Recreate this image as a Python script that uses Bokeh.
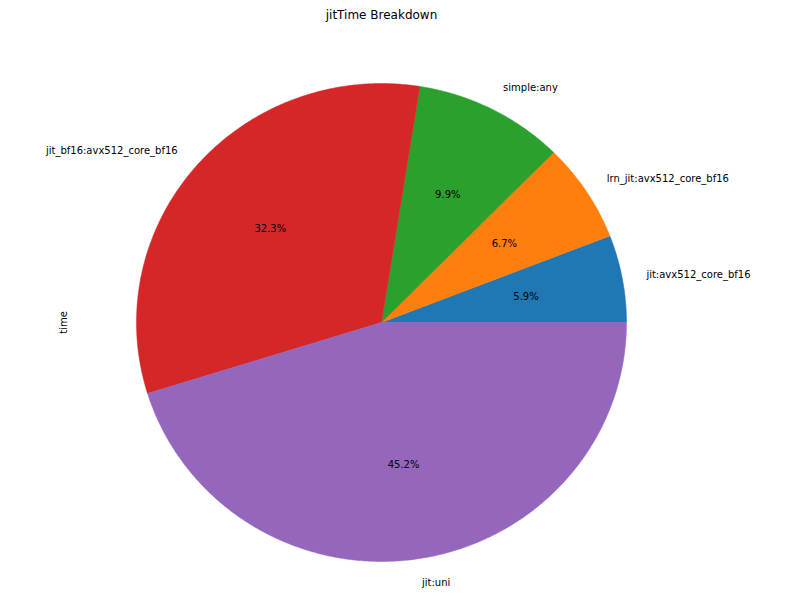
import numpy as np
from bokeh.plotting import figure
from bokeh.models import Range1d, Label, ColumnDataSource
from bokeh.core.properties import value
from bokeh.embed import file_html
from bokeh.resources import INLINE

categories = ["jit:avx512_core_bf16", "lrn_jit:avx512_core_bf16", "simple:any",
              "jit_bf16:avx512_core_bf16", "jit:uni"]
times = [5.9, 6.7, 9.9, 32.3, 45.2]
colors = ["#1f77b4", "#ff7f0e", "#2ca02c", "#d62728", "#9467bd"]
title_text = "jitTime Breakdown"
ylabel_text = "time"

W, H = 781, 593
cx, cy = 381.0, 322.0   # pie centre in canvas pixels (from top-left)
RX, RY = 245.0, 239.0   # pixels per data unit (pie is slightly elliptical)

vals = np.array(times, dtype=float)
frac = vals / vals.sum()
ends = np.cumsum(frac) * 2 * np.pi
starts = ends - frac * 2 * np.pi
mids = (starts + ends) / 2

p = figure(width=W, height=H, output_backend="svg", toolbar_location=None,
           min_border=0, min_border_left=0, min_border_right=0,
           min_border_top=0, min_border_bottom=0,
           x_range=Range1d(-cx / RX, (W - cx) / RX),
           y_range=Range1d(-(H - cy) / RY, cy / RY))
p.axis.visible = False
p.grid.visible = False
p.outline_line_color = None
p.background_fill_color = "white"
p.border_fill_color = "white"

xs, ys = [], []
for s, e in zip(starts, ends):
    n = max(int((e - s) / (2 * np.pi) * 720), 8)
    t = np.linspace(s, e, n)
    xs.append(np.concatenate([[0.0], np.cos(t), [0.0]]))
    ys.append(np.concatenate([[0.0], np.sin(t), [0.0]]))
src = ColumnDataSource(dict(xs=xs, ys=ys, color=colors))
p.patches(xs="xs", ys="ys", fill_color="color", line_color="color",
          line_width=0.5, source=src)

lx = 1.1 * np.cos(mids)
ly = 1.1 * np.sin(mids)
align = ["left" if x > 0 else "right" for x in lx]
lab_src = ColumnDataSource(dict(x=lx, y=ly, t=categories, a=align))
p.text(x="x", y="y", text="t", text_align="a", text_baseline="middle",
       text_font=value("DejaVu Sans"), text_font_size="10px",
       text_color="#000000", source=lab_src)

pct = ["%.1f%%" % (f * 100) for f in frac]
pct_src = ColumnDataSource(dict(x=0.6 * np.cos(mids), y=0.6 * np.sin(mids), t=pct))
p.text(x="x", y="y", text="t", text_align="center", text_baseline="middle",
       text_font=value("DejaVu Sans"), text_font_size="10px",
       text_color="#000000", source=pct_src)

p.add_layout(Label(x=cx, y=H - 14, x_units="screen", y_units="screen",
                   text=title_text, text_align="center", text_baseline="middle",
                   text_font="DejaVu Sans", text_font_size="12px", text_color="#000000"))
p.add_layout(Label(x=63, y=H - cy, x_units="screen", y_units="screen",
                   text=ylabel_text, angle=np.pi / 2, text_align="center",
                   text_baseline="middle",
                   text_font="DejaVu Sans", text_font_size="10px", text_color="#000000"))

open("out.html", "w").write(file_html(p, INLINE))
